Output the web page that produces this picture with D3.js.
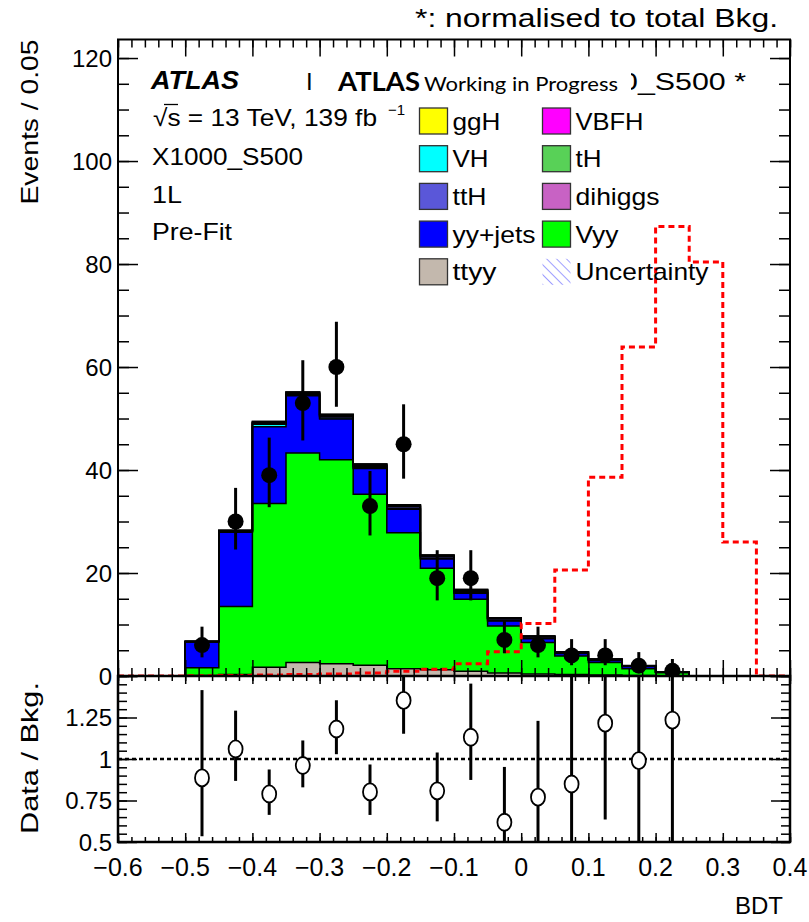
<!DOCTYPE html>
<html>
<head>
<meta charset="utf-8">
<script src="https://cdn.jsdelivr.net/npm/d3@7"></script>
<style>
  body { margin: 0; background: #fff; }
  svg text { font-family: "Liberation Sans", Arial, Helvetica, sans-serif; fill: #000; }
</style>
</head>
<body>
<svg id="chart" width="809" height="922"></svg>
<script>
// ---- Binning: lower edges of the BDT bins (width 0.05) ----
const binLow = [-0.6, -0.55, -0.5, -0.45, -0.4, -0.35, -0.3, -0.25, -0.2, -0.15,
                -0.1, -0.05, 0.0, 0.05, 0.1, 0.15, 0.2, 0.25, 0.3, 0.35];
const binWidth = 0.05;

// ---- Background processes (events per bin) ----
const ttyy    = [0, 0, 0.1, 0.3, 1.7, 2.6, 2.4, 2.1, 1.4, 1.2, 0.9, 0.6, 0.4, 0.3, 0.2, 0.1, 0.05, 0, 0, 0];
const Vyy     = [0, 0, 1.5, 13.2, 31.8, 40.7, 39.6, 33.2, 26.4, 19.7, 14.0, 9.1, 6.1, 3.6, 2.4, 1.3, 0.6, 0, 0, 0];
const yyjets  = [0, 0, 5.0, 14.4, 14.9, 11.1, 7.9, 5.0, 4.6, 1.8, 1.15, 1.0, 0.75, 0.45, 0.4, 0.45, 0.06, 0, 0, 0];
const VH      = [0, 0, 0.05, 0.1, 0.5, 0.2, 0.2, 0.15, 0.15, 0.15, 0.1, 0.1, 0.1, 0.05, 0.05, 0.03, 0.02, 0, 0, 0];
const ttH     = [0, 0, 0.03, 0.1, 0.2, 0.2, 0.3, 0.3, 0.3, 0.3, 0.3, 0.25, 0.2, 0.15, 0.1, 0.05, 0.03, 0, 0, 0];
const tH      = [0, 0, 0.02, 0.05, 0.1, 0.1, 0.15, 0.15, 0.15, 0.15, 0.15, 0.12, 0.1, 0.08, 0.06, 0.04, 0.02, 0, 0, 0];
const VBFH    = [0, 0, 0.02, 0.03, 0.05, 0.05, 0.05, 0.05, 0.05, 0.05, 0.04, 0.03, 0.03, 0.02, 0.02, 0.01, 0.01, 0, 0, 0];
const ggH     = [0, 0, 0.05, 0.1, 0.15, 0.2, 0.2, 0.2, 0.2, 0.15, 0.15, 0.1, 0.1, 0.05, 0.05, 0.03, 0.02, 0, 0, 0];
const dihiggs = [0, 0, 0, 0.01, 0.01, 0.01, 0.01, 0.01, 0.01, 0.01, 0.01, 0.01, 0.01, 0.01, 0.01, 0.01, 0, 0, 0, 0];

// ---- Signal X1000_S500, normalised to the total background ----
const signal = [0, 0, 0.05, 0.1, 0.2, 0.3, 0.4, 0.6, 0.9, 1.3, 2.4, 4.7, 10.2, 20.6, 38.6, 63.9, 87.3, 80.4, 26.0, 0];

// ---- Observed data with 68% Poisson interval bounds ----
const data    = [null, null, 6, 30, 39, 53, 60, 33, 45, 19, 19, 7, 6, 4, 4, 2, 1, null, null, null];
const dataLo  = [null, null, 3.62, 24.56, 32.78, 45.74, 52.28, 27.29, 38.32, 14.68, 14.68, 4.42, 3.62, 2.09, 2.09, 0.71, 0.17, null, null, null];
const dataHi  = [null, null, 9.58, 36.53, 46.29, 61.32, 68.79, 39.80, 52.76, 24.43, 24.43, 10.77, 9.58, 7.16, 7.16, 4.64, 3.30, null, null, null];

// ---- Axis ticks ----
const xMajor = [-0.6, -0.5, -0.4, -0.3, -0.2, -0.1, 0, 0.1, 0.2, 0.3, 0.4];
const xLabels = ["\u22120.6", "\u22120.5", "\u22120.4", "\u22120.3", "\u22120.2", "\u22120.1", "0", "0.1", "0.2", "0.3", "0.4"];
const yMajor = [0, 20, 40, 60, 80, 100, 120];
const rMajor = [0.5, 0.75, 1, 1.25, 1.5];
const rLabels = ["0.5", "0.75", "1", "1.25", ""];

// ---- Stack definition (bottom to top) ----
const stackOrder = [
  { name: "ttyy",    values: ttyy,    color: "#c3b8ad" },
  { name: "Vyy",     values: Vyy,     color: "#00ff00" },
  { name: "yy+jets", values: yyjets,  color: "#0000ff" },
  { name: "VH",      values: VH,      color: "#00ffff" },
  { name: "ttH",     values: ttH,     color: "#5a57d9" },
  { name: "tH",      values: tH,      color: "#58d157" },
  { name: "VBFH",    values: VBFH,    color: "#ff00ff" },
  { name: "ggH",     values: ggH,     color: "#ffff00" },
  { name: "dihiggs", values: dihiggs, color: "#c862c4" }
];

const legendRows = [
  [{ label: "ggH", color: "#ffff00", w: 48 }, { label: "VBFH", color: "#ff00ff", w: 68 }],
  [{ label: "VH", color: "#00ffff", w: 36 }, { label: "tH", color: "#58d157", w: 26 }],
  [{ label: "ttH", color: "#5a57d9", w: 34 }, { label: "dihiggs", color: "#c862c4", w: 84 }],
  [{ label: "yy+jets", color: "#0000ff", w: 83 }, { label: "Vyy", color: "#00ff00", w: 43 }],
  [{ label: "ttyy", color: "#c3b8ad", w: 44 }, { label: "Uncertainty", hatch: true, w: 133 }]
];

// ---- Layout ----
const svg = d3.select("#chart");
const X0 = 118, X1 = 790;
const mainTop = 39.5, mainBot = 676;
const ratTop = 676, ratBot = 842;
const FONT = 24;

const x = d3.scaleLinear().domain([-0.6, 0.4]).range([X0, X1]);
const y = d3.scaleLinear().domain([0, 123.6]).range([mainBot, mainTop]);
const yr = d3.scaleLinear().domain([0.5, 1.5]).range([ratBot, ratTop]);

// text helper: fixed advance width
function fit(sel, w) {
  return sel.attr("textLength", w).attr("lengthAdjust", "spacingAndGlyphs");
}

const defs = svg.append("defs");
defs.append("clipPath").attr("id", "clipMain")
  .append("rect").attr("x", X0).attr("y", mainTop).attr("width", X1 - X0).attr("height", mainBot - mainTop);
defs.append("clipPath").attr("id", "clipRatio")
  .append("rect").attr("x", X0).attr("y", ratTop).attr("width", X1 - X0).attr("height", ratBot - ratTop);
defs.append("clipPath").attr("id", "clipTag")
  .append("rect").attr("x", 631).attr("y", 55).attr("width", 150).attr("height", 50);
const hatch = defs.append("pattern").attr("id", "hatch").attr("patternUnits", "userSpaceOnUse")
  .attr("width", 7).attr("height", 7).attr("patternTransform", "rotate(-45)");
hatch.append("line").attr("x1", 0).attr("y1", 0).attr("x2", 0).attr("y2", 7)
  .attr("stroke", "#6b6bff").attr("stroke-width", 1.3);

// Step-shaped series points: one point per bin edge
function stepPoints(vals) {
  const pts = binLow.map((b, i) => ({ x: b, v: vals[i] }));
  pts.push({ x: binLow[binLow.length - 1] + binWidth, v: vals[vals.length - 1] });
  return pts;
}

// ---- Stacked background ----
const gMain = svg.append("g").attr("clip-path", "url(#clipMain)");
let cum = binLow.map(() => 0);
const layers = stackOrder.map(s => {
  const lo = cum.slice();
  const hi = cum.map((c, i) => c + s.values[i]);
  cum = hi;
  return { ...s, lo, hi };
});
const bkgTotal = cum.slice();

layers.forEach(L => {
  const pts = binLow.map((b, i) => ({ x: b, lo: L.lo[i], hi: L.hi[i] }));
  pts.push({ x: binLow[binLow.length - 1] + binWidth, lo: L.lo[L.lo.length - 1], hi: L.hi[L.hi.length - 1] });
  const area = d3.area().curve(d3.curveStepAfter)
    .x(d => x(d.x)).y0(d => y(d.lo)).y1(d => y(d.hi));
  gMain.append("path").attr("d", area(pts)).attr("fill", L.color).attr("stroke", "none");
});
layers.forEach(L => {
  const line = d3.line().curve(d3.curveStepAfter).x(d => x(d.x)).y(d => y(d.v));
  gMain.append("path").attr("d", line(stepPoints(L.hi)))
    .attr("fill", "none").attr("stroke", "#000").attr("stroke-width", 1.5);
});

// ---- Signal histogram (red dashed) ----
const sigLine = d3.line().curve(d3.curveStepAfter).x(d => x(d.x)).y(d => y(d.v));
gMain.append("path").attr("d", sigLine(stepPoints(signal)))
  .attr("fill", "none").attr("stroke", "#ff0000").attr("stroke-width", 3)
  .attr("stroke-dasharray", "6,4");

// ---- Data points ----
const dataPts = binLow.map((b, i) => ({ c: b + binWidth / 2, n: data[i], lo: dataLo[i], hi: dataHi[i], bkg: bkgTotal[i] }))
  .filter(d => d.n !== null);

gMain.selectAll(".derr").data(dataPts).enter().append("line")
  .attr("x1", d => x(d.c)).attr("x2", d => x(d.c))
  .attr("y1", d => y(d.lo)).attr("y2", d => y(d.hi))
  .attr("stroke", "#000").attr("stroke-width", 3);
gMain.selectAll(".dpt").data(dataPts).enter().append("circle")
  .attr("cx", d => x(d.c)).attr("cy", d => y(d.n)).attr("r", 8).attr("fill", "#000");

// ---- Ratio panel ----
const gRat = svg.append("g").attr("clip-path", "url(#clipRatio)");
gRat.append("line").attr("x1", X0).attr("x2", X1).attr("y1", yr(1)).attr("y2", yr(1))
  .attr("stroke", "#000").attr("stroke-width", 2.5).attr("stroke-dasharray", "4,3");
gRat.selectAll(".rerr").data(dataPts).enter().append("line")
  .attr("x1", d => x(d.c)).attr("x2", d => x(d.c))
  .attr("y1", d => yr(d.lo / d.bkg)).attr("y2", d => yr(d.hi / d.bkg))
  .attr("stroke", "#000").attr("stroke-width", 3);
gRat.selectAll(".rpt").data(dataPts).enter().append("ellipse")
  .attr("cx", d => x(d.c)).attr("cy", d => yr(d.n / d.bkg)).attr("rx", 7).attr("ry", 8.5)
  .attr("fill", "#fff").attr("stroke", "#000").attr("stroke-width", 1.8);

// ---- Axes, ticks and frames ----
const xMinor = d3.range(0, 51).map(i => -0.6 + i * 0.02);
const yMinor = d3.range(0, 25).map(i => i * 5);
const rMinor = d3.range(0, 21).map(i => 0.5 + i * 0.05);

function tickSet(axisFn, scale, vals, size, tx, ty) {
  const g = svg.append("g").attr("transform", `translate(${tx},${ty})`)
    .call(axisFn(scale).tickValues(vals).tickSizeInner(size).tickSizeOuter(0).tickFormat(""));
  g.select(".domain").remove();
  g.selectAll("line").attr("stroke", "#000").attr("stroke-width", 1.5);
}
// main panel
tickSet(d3.axisBottom, x, xMinor, -8, 0, mainBot);
tickSet(d3.axisBottom, x, xMajor, -16, 0, mainBot);
tickSet(d3.axisTop, x, xMinor, -8, 0, mainTop);
tickSet(d3.axisTop, x, xMajor, -17, 0, mainTop);
tickSet(d3.axisLeft, y, yMinor, -11, X0, 0);
tickSet(d3.axisLeft, y, yMajor, -20, X0, 0);
tickSet(d3.axisRight, y, yMinor, -11, X1, 0);
tickSet(d3.axisRight, y, yMajor, -20, X1, 0);
// ratio panel
tickSet(d3.axisTop, x, xMinor, -5, 0, ratTop);
tickSet(d3.axisTop, x, xMajor, -8, 0, ratTop);
tickSet(d3.axisBottom, x, xMinor, -5, 0, ratBot);
tickSet(d3.axisBottom, x, xMajor, -9, 0, ratBot);
tickSet(d3.axisLeft, yr, rMinor, -9, X0, 0);
tickSet(d3.axisLeft, yr, rMajor, -19, X0, 0);
tickSet(d3.axisRight, yr, rMinor, -9, X1, 0);
tickSet(d3.axisRight, yr, rMajor, -19, X1, 0);

svg.append("rect").attr("x", X0).attr("y", mainTop).attr("width", X1 - X0).attr("height", mainBot - mainTop)
  .attr("fill", "none").attr("stroke", "#000").attr("stroke-width", 2);
svg.append("rect").attr("x", X0).attr("y", ratTop).attr("width", X1 - X0).attr("height", ratBot - ratTop)
  .attr("fill", "none").attr("stroke", "#000").attr("stroke-width", 2.5);

// tick labels
svg.append("g").selectAll("text").data(xMajor).enter().append("text")
  .attr("x", d => x(d)).attr("y", 876).attr("text-anchor", "middle")
  .attr("font-size", 25).text((d, i) => xLabels[i]);
svg.append("g").selectAll("text").data(yMajor).enter().append("text")
  .attr("x", 112).attr("y", d => y(d) + 8.5).attr("text-anchor", "end")
  .attr("font-size", FONT).text(d => d);
svg.append("g").selectAll("text").data(rMajor).enter().append("text")
  .attr("x", 112).attr("y", d => yr(d) + 8.5).attr("text-anchor", "end")
  .attr("font-size", FONT).text((d, i) => rLabels[i]);

// axis titles
fit(svg.append("text").attr("transform", `translate(38,${mainTop}) rotate(-90)`)
  .attr("text-anchor", "end").attr("font-size", FONT).text("Events / 0.05"), 165);
fit(svg.append("text").attr("transform", `translate(38,${ratTop + 6}) rotate(-90)`)
  .attr("text-anchor", "end").attr("font-size", FONT).text("Data / Bkg."), 152);
svg.append("text").attr("x", 783).attr("y", 914).attr("text-anchor", "end")
  .attr("font-size", FONT).text("BDT");

// header note
fit(svg.append("text").attr("x", 415).attr("y", 27)
  .attr("font-size", 25).text("*: normalised to total Bkg."), 363);

// ---- Labels inside the main panel ----
fit(svg.append("text").attr("x", 151).attr("y", 89).attr("font-size", 25)
  .attr("font-weight", "bold").attr("font-style", "italic").text("ATLAS"), 88);
// remnants of the label line under the "Working in Progress" tag
svg.append("text").attr("x", 306).attr("y", 90).attr("font-size", FONT).text("I");
fit(svg.append("text").attr("x", 621).attr("y", 90).attr("font-size", FONT)
  .attr("clip-path", "url(#clipTag)").text("0_S500 *"), 125);
fit(svg.append("text").attr("x", 338).attr("y", 91).style("font-family", "Lato, 'Open Sans', sans-serif")
  .attr("font-size", 27).attr("font-weight", "bold").text("ATLAS"), 82);
fit(svg.append("text").attr("x", 424).attr("y", 91).style("font-family", "Lato, 'Open Sans', sans-serif")
  .attr("font-size", 20).text("Working in Progress"), 194);

fit(svg.append("text").attr("x", 153).attr("y", 126).attr("font-size", FONT)
  .text("\u221As = 13 TeV, 139 fb"), 224);
svg.append("text").attr("x", 388).attr("y", 115).attr("font-size", 15).text("\u22121");
svg.append("line").attr("x1", 164).attr("x2", 178).attr("y1", 104.5).attr("y2", 104.5)
  .attr("stroke", "#000").attr("stroke-width", 1.3);
[["X1000_S500", 151], ["1L", 30], ["Pre-Fit", 80]].forEach((t, i) => {
  fit(svg.append("text").attr("x", 152).attr("y", 165 + i * 37.5).attr("font-size", FONT).text(t[0]), t[1]);
});

// ---- Legend ----
const legX = [419.5, 542.5];
legendRows.forEach((row, r) => {
  const cy = 121 + r * 37.7;
  row.forEach((e, c) => {
    if (e.hatch) {
      svg.append("rect").attr("x", legX[c]).attr("y", cy - 13).attr("width", 28).attr("height", 26)
        .attr("fill", "url(#hatch)");
    } else {
      svg.append("rect").attr("x", legX[c]).attr("y", cy - 13).attr("width", 28).attr("height", 26)
        .attr("fill", e.color).attr("stroke", "#333").attr("stroke-width", 1.3);
    }
    fit(svg.append("text").attr("x", legX[c] + 33).attr("y", cy + 8.5).attr("font-size", FONT).text(e.label), e.w);
  });
});
</script>
</body>
</html>
